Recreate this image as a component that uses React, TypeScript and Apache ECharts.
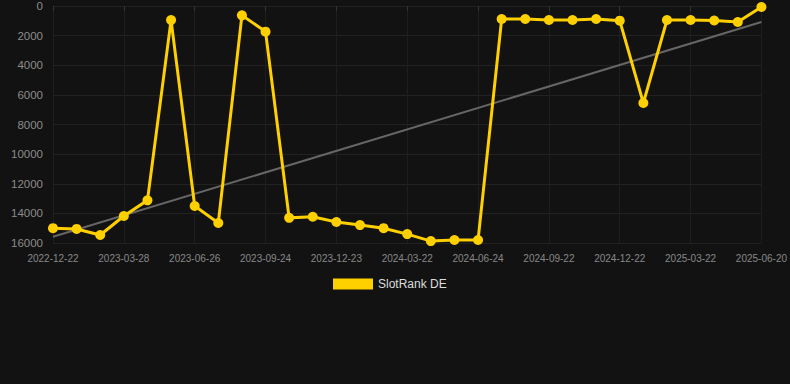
import React, { useEffect, useRef } from "react";
import * as echarts from "echarts";

const dates = [
  "2022-12-22", "2023-01-25", "2023-02-26", "2023-03-28", "2023-04-27", "2023-05-27",
  "2023-06-26", "2023-07-26", "2023-08-25", "2023-09-24", "2023-10-24", "2023-11-23",
  "2023-12-23", "2024-01-22", "2024-02-21", "2024-03-22", "2024-04-23", "2024-05-24",
  "2024-06-24", "2024-07-24", "2024-08-23", "2024-09-22", "2024-10-22", "2024-11-21",
  "2024-12-22", "2025-01-21", "2025-02-20", "2025-03-22", "2025-04-21", "2025-05-21",
  "2025-06-20",
];

const slotRankDE = [
  15000, 15050, 15460, 14180, 13120, 950,
  13500, 14650, 630, 1730, 14300, 14230,
  14580, 14790, 15000, 15400, 15870, 15800,
  15800, 880, 880, 945, 945, 880,
  990, 6550, 945, 945, 980, 1080,
  70,
];

const trendStart = 15580;
const trendEnd = 1080;

const yTicks = { min: 0, max: 16000, interval: 2000 };

export default function App() {
  const ref = useRef<HTMLDivElement>(null);
  useEffect(() => {
    if (!ref.current) return;
    const chart = echarts.init(ref.current, undefined, { renderer: "svg" });
    const trendData = dates.map((_, i) =>
      i === 0 ? trendStart : i === dates.length - 1 ? trendEnd : null
    );
    chart.setOption({
      animation: false,
      backgroundColor: "#121212",
      grid: { left: 53, right: 28, top: 6, bottom: 141, containLabel: false },
      legend: {
        data: ["SlotRank DE"],
        top: 278,
        left: 333,
        padding: 0,
        itemWidth: 40,
        itemHeight: 11,
        itemGap: 10,
        icon: "rect",
        textStyle: { color: "#dddddd", fontSize: 12, fontFamily: "Arial, Liberation Sans, sans-serif" },
      },
      xAxis: {
        type: "category",
        data: dates,
        boundaryGap: false,
        axisLine: { show: false },
        axisTick: { show: true, interval: 2, lineStyle: { color: "#333" }, length: 5 },
        axisLabel: {
          interval: 2,
          color: "#888888",
          fontSize: 10,
          margin: 10,
          fontFamily: "Arial, Liberation Sans, sans-serif",
        },
        splitLine: { show: true, interval: 2, lineStyle: { color: "#1e1e1e", width: 1 } },
      },
      yAxis: {
        type: "value",
        inverse: true,
        min: yTicks.min,
        max: yTicks.max,
        interval: yTicks.interval,
        axisLine: { show: false },
        axisTick: { show: false },
        axisLabel: {
          color: "#8c8c8c",
          fontSize: 11.5,
          margin: 10,
          formatter: (v: number) => String(v),
          fontFamily: "Arial, Liberation Sans, sans-serif",
        },
        splitLine: { show: true, lineStyle: { color: "#222222", width: 1 } },
      },
      series: [
        {
          name: "SlotRank DE",
          type: "line",
          data: slotRankDE,
          color: "#ffd000",
          symbol: "circle",
          symbolSize: 10,
          lineStyle: { width: 3, color: "#ffd000", join: "miter" },
          itemStyle: { color: "#ffd000" },
          z: 3,
        },
        {
          name: "Trend",
          type: "line",
          data: trendData,
          connectNulls: true,
          symbol: "none",
          lineStyle: { width: 2, color: "#666666" },
          z: 2,
        },
      ],
    });
    return () => chart.dispose();
  }, []);
  return (
    <div
      ref={ref}
      style={{ position: "absolute", left: 0, top: 0, width: 790, height: 384 }}
    />
  );
}
